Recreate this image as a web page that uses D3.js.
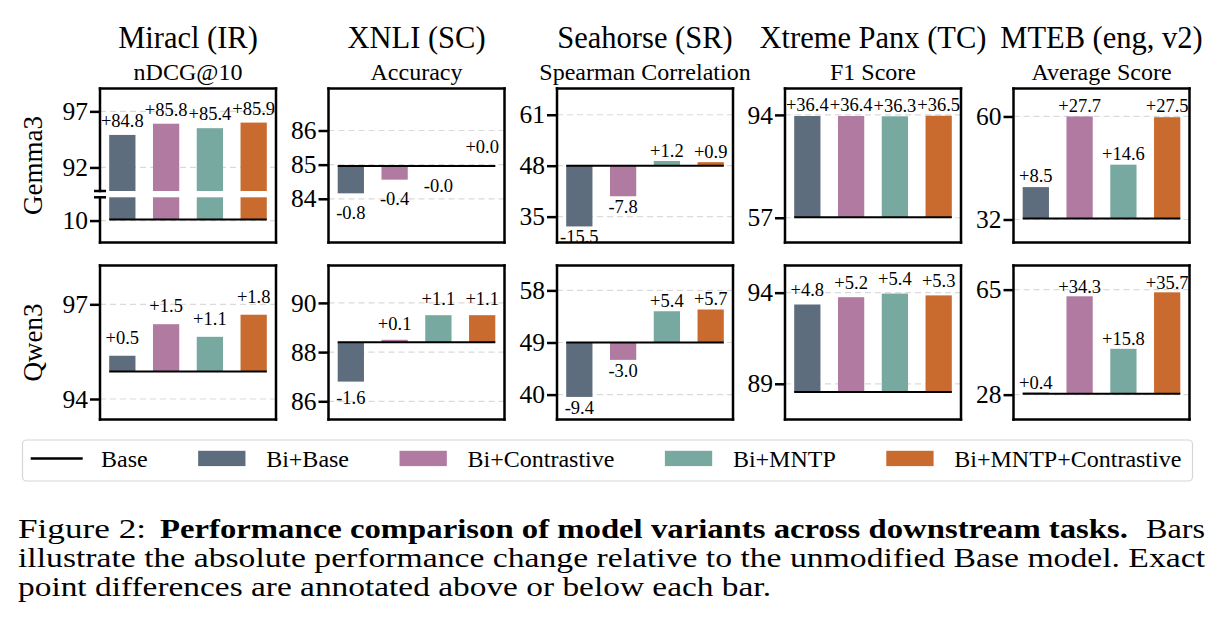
<!DOCTYPE html>
<html><head><meta charset="utf-8">
<script src="https://cdn.jsdelivr.net/npm/d3@7"></script>
<style>
html,body{margin:0;padding:0;background:#fff;}
svg{display:block;}
text{font-family:"Liberation Serif","Times New Roman",serif;fill:#000;}
</style></head><body>
<svg id="c" width="1221" height="629"></svg>
<script>
// ---------------- data ----------------
const tasks   = ["Miracl (IR)", "XNLI (SC)", "Seahorse (SR)", "Xtreme Panx (TC)", "MTEB (eng, v2)"];
const metrics = ["nDCG@10", "Accuracy", "Spearman Correlation", "F1 Score", "Average Score"];
const models  = ["Gemma3", "Qwen3"];
const variants = ["Bi+Base", "Bi+Contrastive", "Bi+MNTP", "Bi+MNTP+Contrastive"];
const baseLabel = "Base";

// unmodified Base model score per task
const gemmaBase = [10.1, 84.96, 48.4, 57.2, 32.3];
const qwenBase  = [94.87, 88.4, 49.2, 88.55, 28.35];

// performance change per task (rows) and variant (columns)
const gemmaDelta = [
  [84.8, 85.8, 85.4, 85.9],
  [-0.8, -0.4, -0.02, 0.02],
  [-15.5, -7.8, 1.2, 0.9],
  [36.4, 36.4, 36.3, 36.5],
  [8.5, 27.7, 14.6, 27.5]
];
const qwenDelta = [
  [0.5, 1.5, 1.1, 1.8],
  [-1.6, 0.1, 1.1, 1.1],
  [-9.4, -3.0, 5.4, 5.7],
  [4.8, 5.2, 5.4, 5.3],
  [0.4, 34.3, 15.8, 35.7]
];

// y-axis limits (upper part for the broken Miracl/Gemma3 axis)
const gemmaYLim = [[89.9, 99.04], [82.72, 87.23], [28.8, 68.1], [48.1, 103.5], [25.75, 67.6]];
const gemmaYLimLower = [[8.05, 12.07], null, null, null, null];
const qwenYLim  = [[93.35, 98.23], [85.26, 91.52], [35.9, 62.5], [87.04, 95.49], [19.25, 73.5]];
const qwenYLimLower = [null, null, null, null, null];

// y tick values (labels are rounded to integers)
const gemmaTicks = [[92, 97, 10], [84, 85, 86], [35.4, 48.4, 61.4], [57, 94], [32, 60]];
const qwenTicks  = [[94, 97], [86, 88, 90], [40.2, 49.2, 58.2], [89, 94], [28, 65]];

const captionLine1 = ["Figure 2: ", "Performance comparison of model variants across downstream tasks.", " Bars"];
const captionLine2 = "illustrate the absolute performance change relative to the unmodified Base model. Exact";
const captionLine3 = "point differences are annotated above or below each bar.";

// ---------------- style / layout ----------------
const colors = ["#5d6d7e", "#b07aa1", "#77a9a0", "#c96b2e"];
const panelLeft = [100, 328.5, 557, 785, 1013.5];
const panelW = 176, panelH = 154;
const rowTop = [88.5, 265.5];
const labelOff = [[14, 19, 10.5, 11, 11], [18, 16, 11, 15, 10]];
const breakGap = [102.5, 108.8];

const bases = [gemmaBase, qwenBase];
const deltas = [gemmaDelta, qwenDelta];
const yLims = [gemmaYLim, qwenYLim];
const yLimsLower = [gemmaYLimLower, qwenYLimLower];
const ticksAll = [gemmaTicks, qwenTicks];

const svg = d3.select("#c");
svg.append("rect").attr("width", 1221).attr("height", 629).attr("fill", "#fff");

const x = d3.scaleLinear().domain([-0.51, 3.51]).range([0, panelW]);
const barHalf = 0.3;
const fmtTick = d3.format(".0f");
const fmtLab = d => (d >= 0 ? "+" : "") + d.toFixed(1);

models.forEach((model, r) => {
  tasks.forEach((task, c) => {
    const g = svg.append("g").attr("transform", `translate(${panelLeft[c]},${rowTop[r]})`);
    const base = bases[r][c];
    const ds = deltas[r][c];
    const lower = yLimsLower[r][c];
    let segs;
    if (lower) {
      segs = [{dom: yLims[r][c], r0: 0, r1: breakGap[0]}, {dom: lower, r0: breakGap[1], r1: panelH}];
    } else {
      segs = [{dom: yLims[r][c], r0: 0, r1: panelH}];
    }
    segs.forEach(s => {
      s.y = d3.scaleLinear().domain(s.dom).range([s.r1, s.r0]);
      s.ticks = ticksAll[r][c].filter(t => t >= s.dom[0] && t <= s.dom[1]);
    });
    const segOf = v => segs.find(s => v >= s.dom[0] && v <= s.dom[1]) || segs[0];

    // grid
    segs.forEach(s => {
      g.selectAll(null).data(s.ticks).enter().append("line")
        .attr("x1", 0).attr("x2", panelW)
        .attr("y1", d => s.y(d)).attr("y2", d => s.y(d))
        .attr("stroke", "#dadada").attr("stroke-width", 1.2).attr("stroke-dasharray", "6,4");
    });

    // bars
    ds.forEach((d, i) => {
      const v = base + d;
      const lo = Math.min(base, v), hi = Math.max(base, v);
      segs.forEach(s => {
        const a = Math.max(lo, s.dom[0]), b = Math.min(hi, s.dom[1]);
        if (b > a) {
          g.append("rect")
            .attr("x", x(i - barHalf)).attr("width", x(i + barHalf) - x(i - barHalf))
            .attr("y", s.y(b)).attr("height", s.y(a) - s.y(b))
            .attr("fill", colors[i]);
        }
      });
    });

    // base line
    const bs = segOf(base);
    g.append("line").attr("x1", x(-barHalf)).attr("x2", x(3 + barHalf))
      .attr("y1", bs.y(base)).attr("y2", bs.y(base))
      .attr("stroke", "#000").attr("stroke-width", 2);

    // labels
    ds.forEach((d, i) => {
      const v = base + d;
      const s = segOf(v);
      const off = labelOff[r][c];
      g.append("text")
        .attr("x", x(i)).attr("y", s.y(v) + (d >= 0 ? -off : off))
        .attr("dy", "0.34em").attr("text-anchor", "middle")
        .attr("font-size", 18.5).text(fmtLab(d));
    });

    // axes
    segs.forEach(s => {
      const ax = g.append("g").call(d3.axisLeft(s.y).tickValues(s.ticks)
        .tickSize(10).tickPadding(2).tickFormat(fmtTick));
      ax.select(".domain").remove();
      ax.selectAll(".tick line").attr("stroke", "#000").attr("stroke-width", 2.5);
      ax.selectAll(".tick text").attr("font-size", 25.5).attr("fill", "#000")
        .attr("font-family", '"Liberation Serif","Times New Roman",serif');
    });

    // frame
    const ln = (x1, y1, x2, y2) => g.append("line").attr("x1", x1).attr("y1", y1).attr("x2", x2).attr("y2", y2)
      .attr("stroke", "#000").attr("stroke-width", 2.5).attr("stroke-linecap", "square");
    ln(0, 0, panelW, 0);
    ln(panelW, 0, panelW, panelH);
    ln(0, panelH, panelW, panelH);
    if (lower) {
      ln(0, 0, 0, breakGap[0]);
      ln(0, breakGap[1], 0, panelH);
      g.append("line").attr("x1", -6).attr("x2", 6).attr("y1", breakGap[0]).attr("y2", breakGap[0]).attr("stroke", "#000").attr("stroke-width", 2.5);
      g.append("line").attr("x1", -6).attr("x2", 6).attr("y1", breakGap[1]).attr("y2", breakGap[1]).attr("stroke", "#000").attr("stroke-width", 2.5);
    } else {
      ln(0, 0, 0, panelH);
    }

    // titles
    if (r === 0) {
      svg.append("text").attr("x", panelLeft[c] + panelW / 2).attr("y", 48)
        .attr("text-anchor", "middle").attr("font-size", 30.5).text(task);
      svg.append("text").attr("x", panelLeft[c] + panelW / 2).attr("y", 80)
        .attr("text-anchor", "middle").attr("font-size", 24).text(metrics[c]);
    }
  });
  svg.append("text")
    .attr("transform", `translate(42,${rowTop[r] + panelH / 2}) rotate(-90)`)
    .attr("text-anchor", "middle").attr("font-size", 27).text(model);
});

// ---------------- legend ----------------
const leg = svg.append("g");
leg.append("rect").attr("x", 22.5).attr("y", 440).attr("width", 1170).attr("height", 41)
  .attr("rx", 4).attr("fill", "#fff").attr("stroke", "#d6d6d6").attr("stroke-width", 1.2);
const legY = 458.5;
let lx = 30.7;
const legItems = [baseLabel].concat(variants);
legItems.forEach((name, k) => {
  if (k === 0) {
    leg.append("line").attr("x1", lx).attr("x2", lx + 52).attr("y1", legY).attr("y2", legY)
      .attr("stroke", "#000").attr("stroke-width", 2.5);
    lx += 52 + 18.3;
  } else {
    leg.append("rect").attr("x", lx).attr("y", legY - 7.7).attr("width", 47.3).attr("height", 15.3)
      .attr("fill", colors[k - 1]);
    lx += 47.3 + 20.7;
  }
  const t = leg.append("text").attr("x", lx).attr("y", legY).attr("dy", "0.34em")
    .attr("font-size", 24).text(name);
  lx += t.node().getComputedTextLength() + 50.5;
});

// ---------------- caption ----------------
const cap = svg.append("g").attr("font-size", 27);
function seg(txt, x0, x1, y, bold) {
  const t = cap.append("text").attr("x", x0).attr("y", y).text(txt)
    .attr("textLength", x1 - x0).attr("lengthAdjust", "spacingAndGlyphs");
  if (bold) t.attr("font-weight", "bold");
  return t;
}
seg(captionLine1[0].trim(), 18, 146, 538, false);
seg(captionLine1[1], 160, 1128, 538, true);
seg(captionLine1[2].trim(), 1146, 1205, 538, false);
seg(captionLine2, 18, 1205, 567, false);
seg(captionLine3, 18, 771, 596, false);
</script>
</body></html>
